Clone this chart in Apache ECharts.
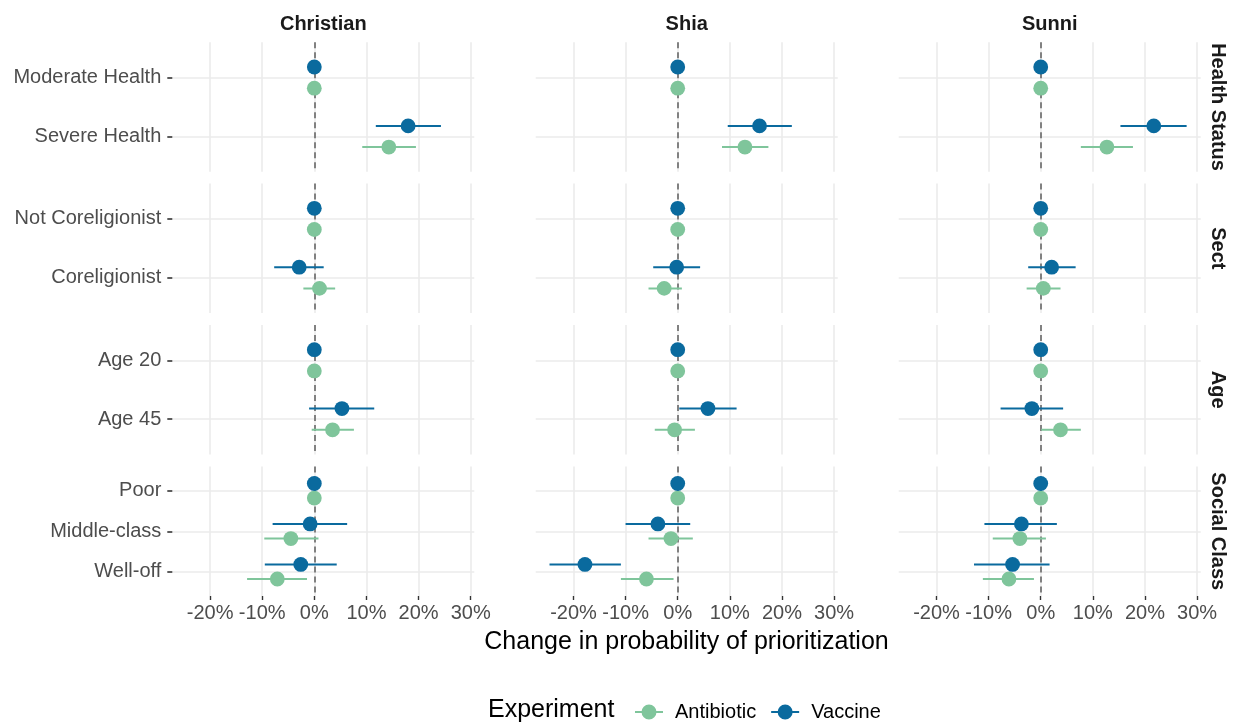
<!DOCTYPE html>
<html>
<head>
<meta charset="utf-8">
<script src="https://cdn.jsdelivr.net/npm/echarts@6/dist/echarts.min.js"></script>
<style>html,body{margin:0;padding:0;background:#fff;}#chart{width:1238px;height:727px;}</style>
</head>
<body>
<div id="chart"></div>
<script>
const columns = ['Christian', 'Shia', 'Sunni'];
const rowGroups = ['Health Status', 'Sect', 'Age', 'Social Class'];
const rowCategories = [
  ['Moderate Health', 'Severe Health'],
  ['Not Coreligionist', 'Coreligionist'],
  ['Age 20', 'Age 45'],
  ['Poor', 'Middle-class', 'Well-off']
];
const experiments = ['Antibiotic', 'Vaccine'];
const xTicks = [-20, -10, 0, 10, 20, 30];

// values in percent, ordered: Moderate, Severe, NotCorel, Corel, Age20, Age45, Poor, Middle, Well-off
const vaccineEst = {
  Christian: [0, 18.0, 0, -2.9, 0, 5.3, 0, -0.8, -2.6],
  Shia:      [0, 15.7, 0, -0.2, 0, 5.8, 0, -3.8, -17.8],
  Sunni:     [0, 21.7, 0, 2.1, 0, -1.7, 0, -3.7, -5.4]
};
const vaccineLow = {
  Christian: [0, 11.8, 0, -7.7, 0, -1.0, 0, -8.0, -9.5],
  Shia:      [0, 9.6, 0, -4.7, 0, 0.3, 0, -10.0, -24.6],
  Sunni:     [0, 15.3, 0, -2.4, 0, -7.7, 0, -10.8, -12.8]
};
const vaccineHigh = {
  Christian: [0, 24.3, 0, 1.8, 0, 11.5, 0, 6.3, 4.3],
  Shia:      [0, 21.9, 0, 4.3, 0, 11.3, 0, 2.4, -10.9],
  Sunni:     [0, 28.0, 0, 6.7, 0, 4.3, 0, 3.1, 1.7]
};
const antibioticEst = {
  Christian: [0, 14.3, 0, 1.0, 0, 3.5, 0, -4.5, -7.1],
  Shia:      [0, 12.9, 0, -2.6, 0, -0.6, 0, -1.3, -6.0],
  Sunni:     [0, 12.7, 0, 0.5, 0, 3.8, 0, -4.0, -6.1]
};
const antibioticLow = {
  Christian: [0, 9.2, 0, -2.1, 0, -0.5, 0, -9.6, -12.9],
  Shia:      [0, 8.5, 0, -5.6, 0, -4.4, 0, -5.6, -10.9],
  Sunni:     [0, 7.7, 0, -2.7, 0, 0.1, 0, -9.2, -11.1]
};
const antibioticHigh = {
  Christian: [0, 19.5, 0, 4.0, 0, 7.6, 0, 0.8, -1.4],
  Shia:      [0, 17.4, 0, 0.8, 0, 3.3, 0, 2.9, -0.8],
  Sunni:     [0, 17.7, 0, 3.8, 0, 7.7, 0, 1.0, -1.3]
};

const colors = { Antibiotic: '#7FC59B', Vaccine: '#0A6A9E' };
const dodge = { Antibiotic: 0.18, Vaccine: -0.18 };
const FONT = '"Liberation Sans", Arial, Helvetica, sans-serif';

const colLeft = [172.3, 535.7, 898.7];
const panelW = 302;
const rowTop = [42.3, 183.6, 325, 466.5];
const panelH = 129.5;
const xMin = -27.25, xMax = 30.7;

const grids = [], xAxes = [], yAxes = [], series = [];
const estMap = { Antibiotic: antibioticEst, Vaccine: vaccineEst };
const lowMap = { Antibiotic: antibioticLow, Vaccine: vaccineLow };
const highMap = { Antibiotic: antibioticHigh, Vaccine: vaccineHigh };

let offset = 0;
rowCategories.forEach((cats, r) => {
  const n = cats.length;
  const catIdx = cats.map((_, i) => i + 1);
  columns.forEach((col, c) => {
    const g = grids.length;
    grids.push({ left: colLeft[c], top: rowTop[r], width: panelW, height: panelH, containLabel: false });
    const bottom = r === rowCategories.length - 1;
    xAxes.push({
      type: 'value', gridIndex: g, min: xMin, max: xMax, position: 'bottom',
      axisLine: { show: false, onZero: false },
      axisTick: { show: bottom, customValues: xTicks, length: 4, lineStyle: { color: '#333', width: 1.4 } },
      axisLabel: { show: bottom, customValues: xTicks, formatter: v => v + '%', fontSize: 20, color: '#4D4D4D', fontFamily: FONT, margin: 7 },
      splitLine: { show: true, lineStyle: { color: '#EBEBEB', width: 1.6 } }
    });
    yAxes.push({
      type: 'value', gridIndex: g, inverse: true, min: 0.4, max: n + 0.6, position: 'left',
      axisLine: { show: false, onZero: false },
      axisTick: { show: c === 0, customValues: catIdx, length: 5, lineStyle: { color: '#333', width: 1.6 } },
      axisLabel: { show: c === 0, customValues: catIdx, formatter: v => cats[Math.round(v) - 1] || '', fontSize: 20, color: '#4D4D4D', fontFamily: FONT, margin: 11 },
      splitLine: { show: true, lineStyle: { color: '#EBEBEB', width: 1.6 } }
    });
    // dashed zero reference line
    series.push({
      type: 'line', xAxisIndex: g, yAxisIndex: g, data: [], z: 2, silent: true,
      markLine: {
        silent: true, symbol: 'none', label: { show: false },
        lineStyle: { color: '#666', type: [6, 4], width: 1.6 },
        data: [{ xAxis: 0 }]
      }
    });
    experiments.forEach(exp => {
      const data = cats.map((_, i) => [
        estMap[exp][col][offset + i],
        i + 1 + dodge[exp],
        lowMap[exp][col][offset + i],
        highMap[exp][col][offset + i]
      ]);
      series.push({
        type: 'custom', name: exp, xAxisIndex: g, yAxisIndex: g, z: 5,
        itemStyle: { color: colors[exp] },
        encode: { x: [0, 2, 3], y: 1 },
        data: data,
        renderItem: (params, api) => {
          const y = api.value(1);
          const p = api.coord([api.value(0), y]);
          const a = api.coord([api.value(2), y]);
          const b = api.coord([api.value(3), y]);
          return {
            type: 'group',
            children: [
              { type: 'line', shape: { x1: a[0], y1: a[1], x2: b[0], y2: b[1] }, style: { stroke: colors[exp], lineWidth: 2 } },
              { type: 'circle', shape: { cx: p[0], cy: p[1], r: 7.4 }, style: { fill: colors[exp] } }
            ]
          };
        }
      });
    });
  });
  offset += n;
});

const graphicList = [];
columns.forEach((col, c) => {
  graphicList.push({
    type: 'text', x: colLeft[c] + panelW / 2, y: 24, silent: true,
    style: { text: col, font: 'bold 20px ' + FONT, fill: '#1A1A1A', align: 'center', verticalAlign: 'middle' }
  });
});
rowGroups.forEach((rg, r) => {
  graphicList.push({
    type: 'text', x: 1217.5, y: rowTop[r] + panelH / 2, rotation: -Math.PI / 2, silent: true,
    style: { text: rg, font: 'bold 20px ' + FONT, fill: '#1A1A1A', align: 'center', verticalAlign: 'middle' }
  });
});
graphicList.push({
  type: 'text', x: 686.5, y: 642, silent: true,
  style: { text: 'Change in probability of prioritization', font: '25px ' + FONT, fill: '#000', align: 'center', verticalAlign: 'middle' }
});
graphicList.push({
  type: 'text', x: 488, y: 710, silent: true,
  style: { text: 'Experiment', font: '25px ' + FONT, fill: '#000', align: 'left', verticalAlign: 'middle' }
});

const legendIcon = 'path://M0,6.5 L28,6.5 L28,8.5 L0,8.5 Z M6.5,7.5 A7.5,7.5 0 1,1 21.5,7.5 A7.5,7.5 0 1,1 6.5,7.5 Z';

const chart = echarts.init(document.getElementById('chart'), null, { renderer: 'canvas' });
chart.setOption({
  animation: false,
  backgroundColor: '#fff',
  textStyle: { fontFamily: FONT },
  grid: grids,
  xAxis: xAxes,
  yAxis: yAxes,
  legend: {
    data: experiments, left: 630, top: 697, icon: legendIcon,
    itemWidth: 28, itemHeight: 15, itemGap: 15,
    textStyle: { fontSize: 20, color: '#000', fontFamily: FONT, padding: [0, 0, 0, 7] },
    selectedMode: false
  },
  graphic: graphicList,
  series: series
});
</script>
</body>
</html>
